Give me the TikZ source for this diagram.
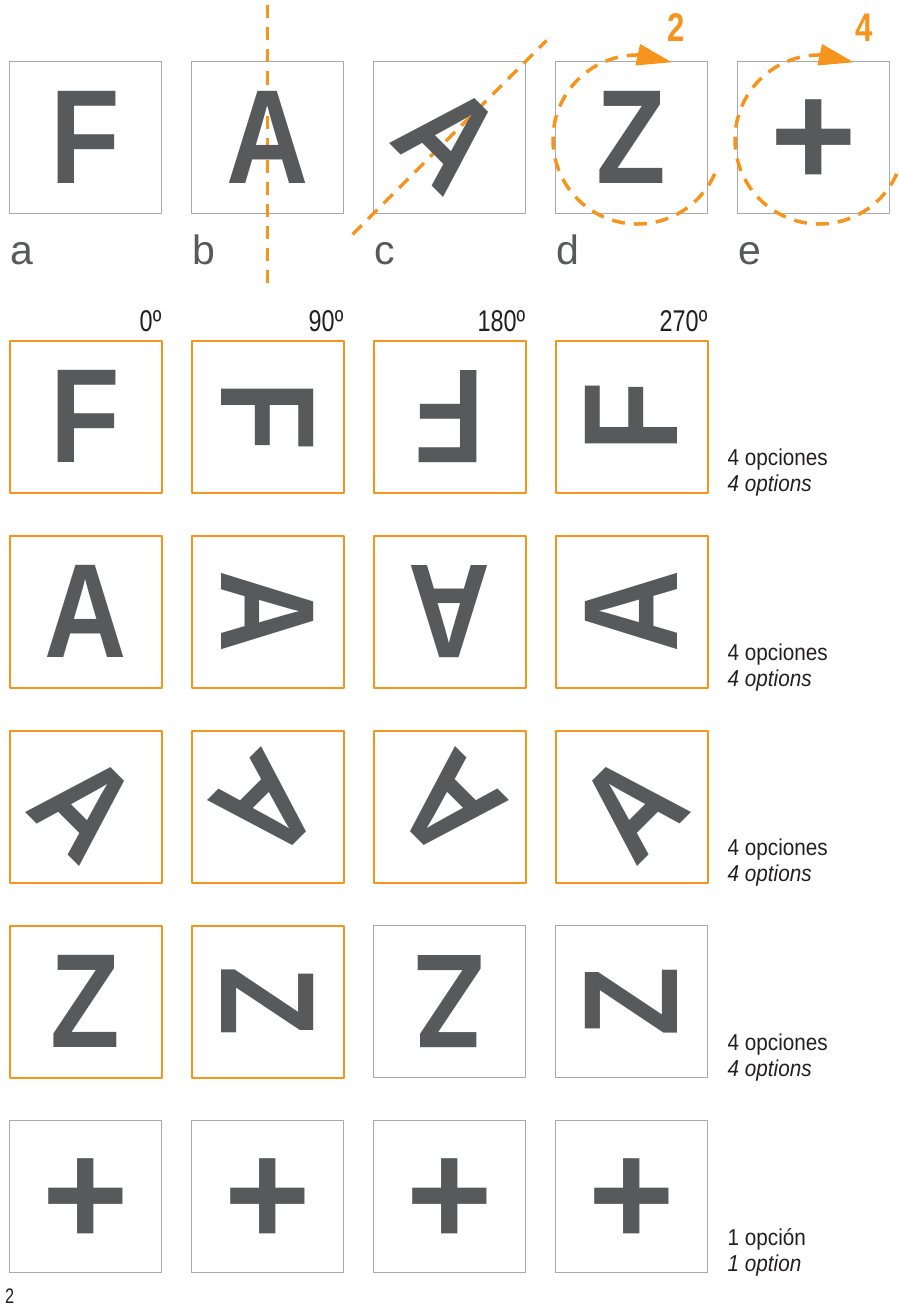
\documentclass[tikz,border=0pt]{standalone}
\usepackage{fontspec}
\setmainfont{Liberation Sans}
\newfontfamily\narrowfont{Liberation Sans}[FakeStretch=0.78]
\newfontfamily\optfont{Liberation Sans}[FakeStretch=0.9]
\newfontfamily\glyphfont{Liberation Sans}[FakeStretch=0.85]
\usetikzlibrary{arrows.meta,bending}
\definecolor{naranja}{HTML}{F7941D}
\definecolor{grisletra}{HTML}{58595B}
\definecolor{grismarco}{HTML}{A7A9AC}
\definecolor{negro}{HTML}{231F20}
\begin{document}
\begin{tikzpicture}[x=1pt,y=-1pt,line join=round,
	marco/.style={draw=grismarco,line width=1.3pt,minimum size=152pt,inner sep=0pt,outer sep=0pt},
	marcon/.style={draw=naranja,line width=2pt,minimum size=152pt,inner sep=0pt,outer sep=0pt},
	letra/.style={text=grisletra,inner sep=0pt,font=\glyphfont\bfseries\fontsize{134}{134}\selectfont},
	cruz/.style={letra,yshift=-6pt,font=\bfseries\fontsize{148}{148}\selectfont},
	etiq/.style={text=grisletra,inner sep=0pt,font=\fontsize{41}{41}\selectfont},
	grados/.style={text=negro,inner sep=0pt,font=\narrowfont\fontsize{30}{30}\selectfont},
	opcion/.style={text=negro,inner sep=0pt,font=\optfont\fontsize{23}{23}\selectfont},
	numgiro/.style={text=naranja,inner sep=0pt,font=\narrowfont\bfseries\fontsize{40}{40}\selectfont},
	eje/.style={naranja,line width=3.5pt,dash pattern=on 13pt off 9pt},
	giro/.style={eje,-{Triangle[length=35pt,width=21pt]}}]
	\useasboundingbox (0,0) rectangle (898,1306);
	% fila superior
	\foreach \i/\l in {0/a,1/b,2/c,3/d,4/e}{
		\node[marco] (\l) at ({85.5+182*\i},137.5) {};
		\node[etiq,anchor=base west] (lbl\l) at ([shift={(1,51)}]\l.south west) {\l};
	}
	\draw[eje] ([yshift=132pt]b.center) -- ([yshift=-145pt]b.center);
	\draw[eje] ([shift={(-21,21)}]c.south west) -- ([shift={(21,-21)}]c.north east);
	\foreach \l in {d,e}{
		\coordinate (m\l) at ([shift={(6,2)}]\l.center);
		\draw[giro] ([shift={(24:84.5)}]m\l) arc[start angle=24,end angle=294,radius=84.5];
	}
	\node[numgiro,anchor=base] (n2) at ([shift={(45,-95.5)}]d.center) {2};
	\node[numgiro,anchor=base] (n4) at ([shift={(51,-95.5)}]e.center) {4};
	\foreach \l/\car/\r in {a/F/0,b/A/0,c/A/-45,d/Z/0}
		\node[letra,rotate=\r] (g\l) at (\l) {\car};
	\node[cruz] (ge) at (e) {+};
	% rejilla de giros
	\foreach \k/\yc/\car/\g/\paso/\n/\est/\opa/\opb in {
		f/416.5/F/0/90/4/letra/4 opciones/4 options,
		h/611.5/A/0/90/4/letra/4 opciones/4 options,
		v/806.5/A/-45/90/4/letra/4 opciones/4 options,
		z/1001.5/Z/0/90/2/letra/4 opciones/4 options,
		p/1196.5/+/0/0/0/cruz/1 opción/1 option}{
		\foreach \j in {0,...,3}{
			\ifnum\j<\n\relax\def\caja{marcon}\else\def\caja{marco}\fi
			\node[\caja] (\k\j) at ({85.5+182*\j},\yc) {};
			\node[\est,rotate={\g-\paso*\j}] (g\k\j) at (\k\j) {\car};
		}
		\node[opcion,anchor=base west] (op\k) at ([shift={(20,-27)}]\k3.south east) {\opa};
		\node[opcion,anchor=base west] (ot\k) at ([shift={(20,-1)}]\k3.south east) {\itshape\opb};
	}
	\foreach \j/\ang in {0/0,1/90,2/180,3/270}
		\node[grados,anchor=base east] (ang\j) at ([shift={(0,-9)}]f\j.north east) {{\ang}º};
	\node[grados,anchor=base west,font=\narrowfont\fontsize{21}{21}\selectfont] (pag) at (5,1303) {2};
\end{tikzpicture}
\end{document}
